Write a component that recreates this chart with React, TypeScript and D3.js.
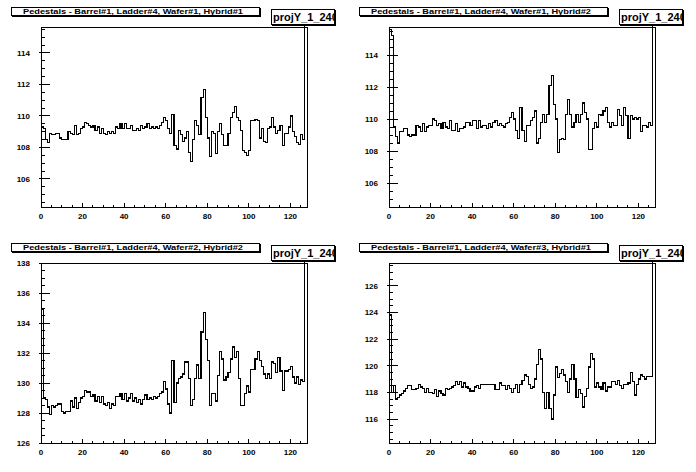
import React from 'react';
import * as d3 from 'd3';

// 128 strips per hybrid, last one is off scale
const titles = [
  'Pedestals - Barrel#1, Ladder#4, Wafer#1, Hybrid#1',
  'Pedestals - Barrel#1, Ladder#4, Wafer#1, Hybrid#2',
  'Pedestals - Barrel#1, Ladder#4, Wafer#2, Hybrid#2',
  'Pedestals - Barrel#1, Ladder#4, Wafer#3, Hybrid#1',
];
const statName = 'projY_1_240';

const yRanges = [
  [104.22, 115.65],
  [104.5, 115.75],
  [126, 138],
  [114.2, 127.7],
];

const xTicks = [0, 20, 40, 60, 80, 100, 120];

const w1h1 = [
  109.3, 109.2, 108.5, 108.3, 108.9, 108.8, 108.8, 108.9, 108.9, 108.6, 108.5, 108.5, 108.5, 109.0, 108.9, 108.8,
  109.4, 108.8, 108.9, 109.2, 109.3, 109.6, 109.5, 109.4, 109.3, 109.4, 109.1, 109.3, 108.9, 109.2, 108.9, 108.8,
  109.0, 108.9, 109.0, 108.9, 109.3, 109.2, 109.5, 109.2, 109.5, 109.2, 109.2, 109.4, 109.1, 109.1, 109.2, 109.1,
  109.4, 109.2, 109.3, 109.5, 109.2, 109.3, 109.2, 109.3, 109.2, 109.4, 109.6, 109.9, 109.7, 109.2, 108.9, 110.1,
  108.1, 107.9, 109.1, 108.8, 108.4, 108.6, 109.0, 107.7, 107.1, 108.5, 109.7, 109.4, 108.8, 111.2, 111.7, 109.9,
  108.6, 107.4, 109.0, 108.9, 107.6, 109.0, 109.5, 108.8, 108.1, 108.1, 108.9, 109.9, 110.2, 110.6, 109.9, 109.7,
  109.1, 107.8, 107.7, 107.5, 107.8, 109.7, 109.7, 109.8, 109.7, 108.6, 109.2, 108.4, 108.3, 109.2, 109.3, 109.9,
  109.3, 108.9, 109.1, 109.4, 108.1, 108.9, 108.9, 109.3, 110.0, 109.0, 108.7, 108.3, 108.2, 108.8, 108.5, 300,
];

const w1h2 = [
  115.6, 115.2, 109.5, 108.9, 108.5, 109.2, 109.2, 109.4, 109.4, 109.0, 108.9, 109.0, 109.0, 109.6, 109.5, 109.2,
  109.7, 109.2, 109.5, 109.6, 109.6, 110.0, 109.9, 109.6, 109.7, 109.4, 109.8, 109.5, 109.4, 109.9, 109.3, 109.3,
  109.7, 109.2, 109.4, 109.4, 109.5, 109.8, 109.8, 109.6, 109.9, 109.9, 109.4, 109.9, 109.5, 109.6, 109.6, 109.4,
  109.7, 109.5, 109.8, 109.9, 109.6, 109.7, 109.6, 109.5, 109.7, 109.8, 110.1, 110.4, 110.0, 109.3, 108.8, 110.7,
  109.3, 108.6, 109.6, 109.6, 109.9, 110.1, 110.5, 108.5, 108.8, 109.8, 110.3, 109.8, 110.3, 112.1, 112.7, 110.9,
  110.0, 107.9, 108.7, 108.8, 108.7, 110.3, 111.2, 110.3, 109.5, 109.8, 110.3, 109.8, 110.3, 111.0, 110.4, 110.0,
  108.1, 108.1, 109.4, 109.8, 109.5, 110.3, 110.2, 110.5, 110.7, 109.8, 109.5, 109.8, 109.6, 109.6, 110.6, 110.2,
  109.6, 110.7, 110.2, 108.8, 110.2, 110.0, 110.1, 110.0, 110.1, 109.2, 109.6, 109.6, 109.5, 109.8, 109.6, 300,
];

const w2h2 = [
  134.9, 129.0, 128.9, 128.4, 127.9, 128.5, 128.4, 128.5, 128.6, 128.6, 128.1, 128.0, 128.1, 128.1, 128.8, 128.4,
  129.0, 128.3, 128.7, 129.0, 129.1, 129.5, 129.4, 129.4, 129.1, 129.2, 128.8, 129.1, 128.7, 129.1, 128.6, 128.5,
  128.7, 128.3, 128.6, 128.5, 129.1, 129.1, 129.3, 128.9, 129.3, 128.8, 129.0, 129.3, 128.8, 129.0, 128.7, 128.9,
  128.6, 128.9, 129.2, 128.9, 129.0, 128.9, 129.1, 129.0, 129.1, 129.3, 129.4, 130.1, 129.6, 128.6, 128.0, 131.5,
  128.7, 130.0, 130.3, 130.4, 130.6, 131.4, 131.4, 130.3, 128.5, 128.9, 130.3, 131.2, 130.3, 133.4, 134.7, 132.9,
  131.5, 128.5, 129.3, 129.3, 128.8, 130.5, 132.1, 131.6, 130.2, 130.4, 130.7, 131.6, 132.4, 131.7, 132.1, 130.3,
  128.5, 128.5, 129.3, 129.8, 129.4, 130.9, 130.9, 131.6, 132.1, 131.5, 131.1, 130.6, 130.3, 130.6, 130.3, 131.4,
  131.3, 130.7, 131.7, 130.8, 129.5, 130.8, 130.8, 130.9, 131.1, 130.4, 130.0, 130.4, 129.9, 130.2, 130.1, 300,
];

const w3h1 = [
  123.8, 118.0, 118.5, 117.5, 117.6, 117.8, 117.9, 118.1, 118.3, 118.5, 118.5, 118.2, 118.2, 118.3, 118.6, 118.4,
  118.3, 118.0, 118.3, 118.0, 118.0, 117.9, 118.2, 117.7, 118.1, 117.9, 117.8, 118.3, 118.2, 118.3, 118.4, 118.5,
  118.8, 118.6, 118.8, 118.4, 118.7, 118.4, 118.3, 118.1, 118.1, 118.4, 118.5, 118.3, 118.6, 118.6, 118.6, 118.6,
  118.6, 118.6, 118.6, 118.2, 118.2, 118.7, 118.5, 118.5, 118.2, 118.5, 118.3, 118.0, 118.3, 118.6, 118.0, 118.6,
  118.9, 119.3, 119.2, 118.6, 118.3, 118.4, 119.0, 120.1, 121.2, 120.5, 118.0, 116.8, 118.0, 116.8, 116.0, 117.8,
  119.9, 119.1, 119.4, 119.7, 119.3, 118.8, 118.0, 119.0, 120.1, 119.0, 117.6, 118.2, 117.9, 116.9, 117.7, 118.3,
  119.9, 120.9, 120.5, 118.4, 118.7, 118.4, 118.2, 118.7, 118.1, 118.4, 118.4, 118.8, 118.8, 118.6, 118.9, 118.5,
  118.3, 118.6, 118.6, 118.7, 119.5, 118.8, 117.8, 118.6, 119.0, 119.3, 119.2, 119.0, 119.2, 119.2, 119.2, 300,
];

const series = [w1h1, w1h2, w2h2, w3h1];

const FONT = '"Liberation Sans", Arial, sans-serif';
const PW = 348;
const PH = 236;

function Panel({ idx }: { idx: number }) {
  const values = series[idx];
  const [ymin, ymax] = yRanges[idx];
  const ox = (idx % 2) * PW;
  const oy = Math.floor(idx / 2) * PH;

  const x = d3.scaleLinear().domain([0, values.length]).range([41, 307]);
  const y = d3.scaleLinear().domain([ymin, ymax]).range([207, 27]);

  const majorY = d3.range(Math.ceil(ymin / 2) * 2, ymax + 1e-6, 2);
  const minorY = d3.range(Math.ceil(ymin * 2) / 2, ymax + 1e-6, 0.5).filter((v) => Math.abs(v / 2 - Math.round(v / 2)) > 1e-6);
  const minorX = d3.range(0, values.length + 1, 5).filter((v) => v % 20 !== 0);

  const pts: [number, number][] = values.map((v, i) => [i, v]);
  pts.push([values.length, values[values.length - 1]]);
  const line = d3
    .line<[number, number]>()
    .x((d) => x(d[0]))
    .y((d) => y(d[1]))
    .curve(d3.curveStepAfter);

  const clipId = `clip${idx}`;

  return (
    <g transform={`translate(${ox},${oy})`}>
      <defs>
        <clipPath id={clipId}>
          <rect x={38} y={12} width={272} height={196} />
        </clipPath>
      </defs>

      {/* frame */}
      <rect x={41} y={27} width={266} height={180} fill="none" stroke="#000" strokeWidth={1} shapeRendering="crispEdges" />

      {/* histogram */}
      <path d={line(pts) || ''} fill="none" stroke="#000" strokeWidth={1.1} clipPath={`url(#${clipId})`} shapeRendering="crispEdges" />

      {/* y axis */}
      {majorY.map((v) => (
        <g key={'my' + v}>
          <line x1={39} x2={50} y1={y(v)} y2={y(v)} stroke="#000" shapeRendering="crispEdges" />
          <text x={30} y={y(v) + 3} textAnchor="end" fontFamily={FONT} fontWeight="bold" fontSize={8}>
            {v}
          </text>
        </g>
      ))}
      {minorY.map((v) => (
        <line key={'ny' + v} x1={41} x2={45} y1={y(v)} y2={y(v)} stroke="#000" shapeRendering="crispEdges" />
      ))}

      {/* x axis */}
      {xTicks.map((v) => (
        <g key={'mx' + v}>
          <line x1={x(v)} x2={x(v)} y1={207} y2={203} stroke="#000" shapeRendering="crispEdges" />
          <text x={x(v)} y={219} textAnchor="middle" fontFamily={FONT} fontWeight="bold" fontSize={8}>
            {v}
          </text>
        </g>
      ))}
      {minorX.map((v) => (
        <line key={'nx' + v} x1={x(v)} x2={x(v)} y1={207} y2={205} stroke="#000" shapeRendering="crispEdges" />
      ))}

      {/* title box */}
      <rect x={12} y={8} width={249} height={9} fill="#000" shapeRendering="crispEdges" />
      <rect x={11} y={7} width={248} height={8} fill="#fff" stroke="#000" shapeRendering="crispEdges" />
      <text x={23} y={14} fontFamily={FONT} fontWeight="bold" fontSize={7.5} textLength={220} lengthAdjust="spacingAndGlyphs">
        {titles[idx]}
      </text>

      {/* stats box */}
      <defs>
        <clipPath id={'s' + clipId}>
          <rect x={271} y={9} width={64} height={16} />
        </clipPath>
      </defs>
      <rect x={272} y={10} width={64} height={16} fill="#000" shapeRendering="crispEdges" />
      <rect x={271} y={9} width={63} height={15} fill="#fff" stroke="#000" shapeRendering="crispEdges" />
      <g clipPath={`url(#s${clipId})`}>
        <text x={273} y={21} fontFamily={FONT} fontWeight="bold" fontSize={11} fill="#000">
          {statName}
        </text>
      </g>
    </g>
  );
}

export default function App() {
  return (
    <svg
      width={696}
      height={472}
      style={{ position: 'absolute', left: 0, top: 0, background: '#fff' }}
    >
      <rect x={0} y={0} width={696} height={472} fill="#fff" />
      {series.map((_, i) => (
        <Panel key={i} idx={i} />
      ))}
    </svg>
  );
}
